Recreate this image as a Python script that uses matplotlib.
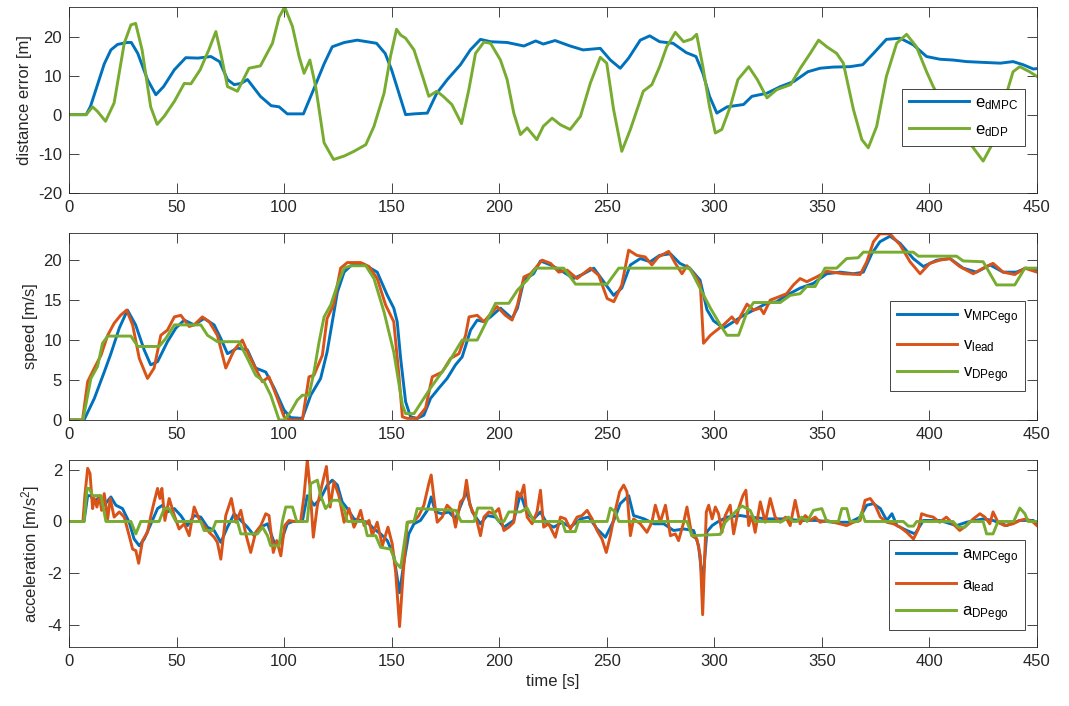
import matplotlib
matplotlib.use("Agg")
import matplotlib.pyplot as plt
import numpy as np

plt.rcParams['font.family'] = ['Liberation Sans', 'DejaVu Sans']
plt.rcParams['mathtext.fontset'] = 'custom'
plt.rcParams['mathtext.rm'] = 'Liberation Sans'
plt.rcParams['mathtext.it'] = 'Liberation Sans:italic'
plt.rcParams['mathtext.default'] = 'regular'
plt.rcParams['axes.unicode_minus'] = False

C_BLUE = '#0072BD'
C_ORANGE = '#D95319'
C_GREEN = '#77AC30'

# ---------------- distance error [m] ----------------
ed_mpc = [(0,0),(8,0),(10,2.1),(16.4,13),(19.5,16.6),(22.6,18),(27,18.5),(29,18.5),(32,15.7),(36.5,9),
          (40.4,5.1),(44,7.2),(49,11.5),(54.3,14.6),(60,14.5),(66,14.9),(70,13.6),(73.7,9),(76.8,7.7),
          (80,8),(83,9),(89,4.7),(94,2.3),(97.7,2),(101.5,0.2),(109,0.2),(114,6.8),(118.6,13),
          (122.4,17.4),(128,18.5),(134,19.1),(143,18.3),(147,15.7),(150,11.5),(153.4,5.5),(156.5,0),
          (160.4,0.2),(166.6,0.4),(171,5.5),(175.9,9),(182,12.8),(186.6,16.6),(191.3,19.3),(196,18.7),
          (203.7,18.5),(211.5,17.6),(217,18.9),(220.5,18.1),(226,19),(233,17.6),(239,16.6),(247,17),
          (251.7,14),(256.3,11.9),(260.2,14.5),(265.6,19.1),(270,20.2),(274.6,18.7),(280.8,18.3),
          (287,15.9),(291.5,14.9),(294.7,10.6),(297.8,4.7),(301.2,0.4),(306,2),(313.6,2.6),(317.5,4.7),
          (324.5,5.5),(330.8,7.2),(337,8.5),(343.5,11),(349.2,11.9),(355.4,12.2),(363,12.3),(369,12.8),
          (374,15.7),(380,19.3),(386.4,19.6),(392.5,17.9),(398.7,14.9),(405,14.2),(411,14),(417.3,13.6),
          (425,13.4),(433,13.2),(438.9,13.6),(443.6,12.8),(448.3,11.7),(450,11.8)]
ed_dp = [(0,0),(8,0),(11,2),(13.3,0.8),(17,-1.7),(21,3),(25.7,18.3),(28.8,23),(31,23.4),(34,16.6),(38,2),
         (41,-2.5),(44.3,-0.4),(49,3.4),(53.6,8),(56.7,7.9),(61,11.5),(65,16.6),(68.3,21.3),(70.6,15.7),
         (73.7,7.2),(78.3,6),(80.6,8.5),(83.7,11.9),(89,12.5),(94.6,18.3),(97.7,25),(100.3,27.6),
         (103.9,22.6),(107,14.9),(109.3,10.6),(112,14),(114.7,7.2),(118.6,-7.2),(123,-11.5),(128,-10.6),
         (132.5,-9.4),(138,-7.7),(141.8,-3),(146.5,5.5),(149.5,15),(152.3,21.9),(154.2,20.4),(156.5,19.6),
         (160.4,16.6),(164.4,9.8),(167.3,4.7),(171,6),(174,4.7),(178,2.6),(182.5,-2.3),(185.9,6.4),
         (189,15.7),(192.9,18.6),(196,18.3),(200.6,14),(203.7,9),(206.8,0.4),(209.9,-5.1),(213,-3.4),
         (217.5,-6.4),(220.5,-3),(224.6,-0.9),(228.5,-2.6),(233,-3.8),(237.8,-0.4),(242.4,8.1),(247,14.7),
         (250,13.2),(253.2,1.3),(257,-9.4),(261,-3.8),(267,6),(271,7.7),(274.6,12.3),(277.9,17.4),
         (281.9,21.1),(285.7,18.7),(289.6,19.4),(291.8,20.6),(294.7,12.3),(297.8,2),(300.5,-4.7),
         (303.5,-3.8),(307.4,2),(311,9),(316,12.3),(320,9),(324.5,4.3),(329,6.4),(335.5,7.7),(340,11.9),
         (344.6,15.7),(348.5,19.1),(352.3,17.4),(356.9,15.7),(360,13.2),(364.7,1.3),(368.6,-6.4),
         (371.6,-8.5),(375.5,-3),(380,9.8),(384.8,18.3),(389.4,20.6),(394,17.4),(398.7,11),(401.8,7.2),
         (407,2),(413,-3),(418,-6.5),(420.4,-8.5),(425,-11.9),(429.6,-7.2),(434,2),(438.9,11),(442,12.3),
         (446.6,11),(450,9.8)]

# ---------------- speed [m/s] ----------------
v_mpc = [(0,0),(7,0),(11.8,2.7),(16.4,6),(19.5,8.3),(23.4,11.5),(27.2,13.75),(31,11.9),(35,8.75),(38,6.9),
         (41.2,7.3),(45.8,9.8),(49.7,11.5),(53.6,12.5),(58.2,11.9),(62.8,12.7),(67.5,11.9),(70.6,10.2),
         (73.7,8.3),(78.3,9),(83,8.75),(86.8,6.5),(91.5,6),(95.4,4),(100,1.25),(103,0.3),(108.5,0.2),
         (112.4,3.1),(117,5.2),(120,8.5),(124.8,16),(127.9,18.5),(131,19.3),(137,19.5),(143.3,18.5),
         (148,15.6),(151,14),(152.6,12.3),(154.2,7.7),(156.5,2.3),(158.8,0.4),(161.9,0.2),(165,0.6),
         (168.1,2.7),(172,4),(175.8,5.2),(179.7,6.9),(182.8,7.9),(186.7,11.25),(189.8,12.5),(192.9,12.3),
         (196,12.9),(200.6,14),(206,12.7),(208.5,14),(211.5,17.5),(216,18.3),(219.2,19.9),(223.9,19.4),
         (228.5,18.75),(234.6,17.7),(239.3,18.3),(244,19),(248.6,17.3),(253.2,15.6),(257,16.5),(261,19.4),
         (265.6,20.2),(270.2,19.8),(274.6,20.6),(279.6,20.8),(284,19.6),(288.6,19),(293.4,17.5),
         (296.6,13.8),(299.7,12.4),(304.3,11.5),(309,12.3),(313.6,13.1),(318.3,13.75),(324.4,14.6),
         (329,14.8),(333.6,15.6),(339.9,16.5),(346.1,17.1),(352.3,18.3),(358.5,18.5),(364.7,18.3),
         (369.3,18.5),(373.2,20.8),(377,22.3),(381.7,23),(386.4,22.1),(392.5,20.2),(397.2,19.2),
         (403.4,20),(409.6,20.2),(415.7,19),(421.9,18.5),(428.2,19.4),(434.3,18.5),(440.4,18.5),
         (445,19),(450,18.7)]
v_lead = [(0,0),(6.3,0),(8.7,4.8),(11.8,6.5),(14.9,8.1),(18,10.6),(21,12.1),(24,13.1),(26.8,13.75),
          (29.6,11.9),(32.7,7.7),(36.5,5.2),(39.6,6.5),(42.7,10.6),(45.8,11.25),(49,12.9),(52,13.1),
          (55.9,11.7),(58.2,11.9),(62,12.9),(65.2,12.3),(69,10.6),(72.9,6.5),(76.8,8.75),(80.6,10),
          (83.7,8.1),(87.6,6),(89.9,4.8),(93,5.4),(96.9,2.7),(100,0.4),(103,0),(108.5,0),(111.6,5.4),
          (113.9,5.6),(117.8,8.1),(120,12.7),(123,14.4),(126.3,19),(129.4,19.7),(135.6,19.7),
          (139.5,19.2),(143.3,17.7),(147.2,14.4),(151,12.3),(153.4,5.6),(155,0.4),(157.3,0.2),
          (161.9,0.2),(165.8,1.5),(168.9,5.4),(173.5,6),(177.4,7.7),(181.3,8.3),(184.4,10.6),(186,12.9),
          (189.8,13.1),(192.9,12.3),(199,14.2),(202.9,13.1),(206,12.5),(208.5,14.4),(211.5,17.9),
          (214.6,18.3),(220,20),(223.9,19.6),(227.7,18.5),(231.6,18.75),(236.2,17.7),(242.4,19),
          (246.3,18.1),(250.2,15.2),(253.3,14.8),(257,16.9),(260.2,21.25),(264,20.6),(267.9,20.4),
          (271,19.4),(274,20.4),(278.8,21.1),(281.9,19.6),(285,18.3),(287.3,19.3),(291,18.1),(293.5,17),
          (295,9.6),(298.2,10.6),(300.5,11.1),(304.3,11.9),(308.2,12.9),(310.5,12.1),(315.2,14.5),
          (318.3,13.75),(321.4,14),(323,13.3),(326,15),(329.9,15.4),(333.6,15.8),(336.8,16.9),
          (339.9,17.7),(343,17.3),(347.6,17.9),(352.3,18.6),(360,18.3),(367.8,18.2),(370.9,19.8),
          (374,22.3),(377,23.3),(381.7,23.3),(386.4,21.9),(391,19.8),(395.7,18.3),(400.2,19.6),
          (404.8,20),(409.5,20.2),(414.1,19.2),(420.4,18.3),(425,19),(429.6,19.6),(434.3,18.5),
          (439.7,18.2),(444.4,19),(450,18.5)]
v_dp = [(0,0),(6.5,0),(10.2,5.2),(13.3,6.7),(15.6,9.6),(18,10.5),(28.8,10.5),(32,9.2),(41.9,9.2),
        (45,10.2),(49,11.9),(61.3,11.9),(64.4,10.6),(69,9.8),(79,9.8),(83,7.7),(86.8,5.6),(90.7,4.8),
        (93.8,3.1),(97.7,0),(100,0),(103,1),(106.2,2.5),(108.5,3.1),(111.6,3.1),(113.9,6),(116.3,9.8),
        (118.6,12.9),(121.7,14.4),(124.8,16.9),(127.9,19),(131,19.3),(138,19.3),(141.8,17.7),
        (146.5,13.5),(151,8.5),(155,1.9),(156.5,0.8),(160.4,0.8),(168.1,4),(175.8,6.9),(182.8,10),
        (189.8,10),(198.3,14.6),(204.5,14.6),(208.5,16.25),(213,17.5),(217,19),(230,19),(235.5,17),
        (250.2,17),(255.6,19),(288.6,19),(294.3,16),(298.2,14),(302.8,11.9),(305.9,10.6),(311.3,10.6),
        (315.2,13.5),(318.3,14.7),(330.7,14.7),(335.3,15.6),(339.9,15.8),(343,16.7),(346.9,16.7),
        (351.5,19),(356.9,19),(361.5,20.2),(366.9,20.3),(369.3,21),(392.5,21),(394.9,20.5),(412.6,20.5),
        (415.7,19.9),(425,19.8),(431.2,16.9),(439.7,16.9),(444.4,19),(450,19)]

# ---------------- acceleration [m/s^2] ----------------
a_mpc = [(0,0),(7,0),(8.7,1.0),(10.2,1.0),(11.8,0.76),(14.1,0.95),(16.4,0.63),(19.5,0.95),(21.8,0.63),
         (24.9,0.5),(28,-0.03),(30.3,-0.68),(32.7,-0.94),(35,-0.68),(38.1,-0.09),(41.2,0.5),(43.5,0.63),
         (45.8,0.37),(49,0.5),(52,0.23),(55.1,-0.16),(58.2,0.23),(61.3,0.17),(64.4,-0.22),(67.5,-0.35),
         (70.6,-0.81),(73.7,-0.22),(76.8,0.3),(79.9,0.04),(83,-0.22),(86.1,-0.55),(89.2,-0.22),
         (92.3,-0.09),(95.4,-0.81),(98.5,-0.81),(101.5,-0.09),(104,0),(108.5,0),(110.8,1.0),(114,0.63),
         (117,0.89),(120.1,1.41),(122.4,1.6),(124.8,1.41),(127,0.76),(129.4,0.5),(132.5,0.1),
         (135.6,0.04),(138.7,-0.03),(141.8,-0.29),(144.9,-0.48),(148,-0.74),(151,-1.33),(153.7,-2.76),
         (155.7,-1.59),(158,-0.48),(160.4,-0.09),(163.4,0.04),(166.6,0.43),(168.4,0.95),(170.4,0.37),
         (173.5,0.3),(176.6,0.37),(179.7,0.1),(182.8,0.76),(184.8,1.15),(187.5,0.37),(191.3,-0.09),
         (194.4,0.23),(198.3,0.17),(202.2,-0.22),(206.8,0.04),(209.9,1.08),(213,0.3),(216.1,0.1),
         (219.2,0.37),(222.3,-0.09),(225.4,-0.22),(229.3,-0.03),(233.1,-0.22),(237.8,0.1),(241.7,0.17),
         (245.5,-0.29),(249.4,-0.61),(253.3,0.04),(256.3,0.69),(260.2,1.0),(262.5,0.23),(267.4,0.1),
         (272,-0.09),(276.5,-0.09),(281.1,-0.35),(285.8,-0.29),(290.4,-0.35),(292.7,-0.94),(294.6,-2.37),
         (296.6,-0.4),(299,-0.16),(301.3,-0.03),(305.9,0.17),(312.1,0.23),(316.7,0.17),(324.4,0.1),
         (332.2,0.1),(339.9,0.04),(347.6,0.04),(355.4,-0.03),(363.1,-0.03),(367.8,0.17),(370.9,0.63),
         (374,0.69),(377.2,0.5),(380.2,0.04),(382.6,0.3),(384.9,-0.16),(389.5,-0.35),(393.3,-0.48),
         (397.2,0.04),(404.8,0.04),(412.6,-0.16),(417.2,-0.03),(425,0.1),(429.6,0.04),(435.9,-0.16),
         (442,0.04),(448.3,0.04),(450,-0.09)]
a_lead = [(0,0),(6.5,0),(7.4,1.0),(8.7,2.06),(9.8,1.86),(11,0.5),(11.8,0.89),(13,0.56),(14.1,1.0),
          (15.2,0.43),(16.4,1.08),(18,0.1),(19.2,0.89),(21,0.17),(23.4,0.37),(25.7,0.17),(28,-0.55),
          (29.6,-1.07),(31.1,-1.13),(32.4,-1.62),(34.2,-0.74),(36.5,-0.42),(38.1,0.23),(39.6,0.76),
          (41.2,1.28),(42.3,0.89),(43.2,1.28),(44.6,0.04),(46.6,0.89),(49,0.23),(51.2,-0.29),(53.6,-0.09),
          (55.9,-0.55),(58.2,0.56),(60.5,0.1),(62.8,-0.16),(65.2,-0.42),(67.5,-0.61),(69,-0.81),
          (70.6,-1.46),(72.9,0.23),(75.5,0.89),(77.6,-0.03),(79.9,0.43),(82.2,-0.48),(84.5,-1.2),
          (86.8,-0.42),(89.2,-0.16),(91.5,0.3),(93,0.23),(95,-1.2),(96.6,-0.74),(98.5,-1.33),
          (100.3,-0.16),(102.3,0.04),(104.6,0),(107.7,0),(109.3,1.0),(110.8,2.38),(112.1,1.28),
          (113.6,-0.61),(115.5,0.63),(117.8,1.47),(119.7,2.13),(121.4,0.56),(123.2,1.54),(125.5,1.0),
          (127.9,-0.03),(130.2,0.5),(132.5,-0.22),(134,0.04),(135.6,0.43),(137.2,-0.16),(139.5,0.04),
          (141,-0.55),(143.3,-0.03),(145.7,-0.94),(148.3,-0.22),(150.3,-0.87),(151.9,-1.98),
          (153.7,-4.07),(155.4,-1.98),(157.3,-0.03),(160.4,0),(162.7,0.23),(165,0.63),(167.3,1.47),
          (168.4,1.8),(169.7,0.89),(171.2,-0.03),(173.5,0.17),(175.8,0.63),(178.2,0.43),(179.7,-0.22),
          (182,0.76),(183.6,0.89),(184.8,1.6),(186.4,0.63),(188.2,0.3),(189.8,-0.03),(191.3,-0.55),
          (192.9,0.17),(195.2,0.37),(197.5,0.3),(199.8,0.5),(202.2,-0.35),(204.5,-0.22),(206.8,-0.03),
          (208.4,1.15),(209.9,0.95),(211.5,1.41),(213,0.17),(215.3,-0.09),(217.6,0.37),(219.2,1.21),
          (220.7,-0.22),(223,-0.09),(226.1,-0.61),(228.5,0.17),(230.8,0.1),(233.1,-0.29),(236.2,0.17),
          (238.5,0.23),(240.9,0.43),(243.2,0.1),(245.5,-0.35),(247.8,-0.68),(249.8,-1.2),(251.7,-0.55),
          (254,0.43),(256,1.15),(257.9,1.41),(259.4,1.15),(261,-0.55),(262.5,0.1),(265.6,-0.09),
          (268.7,-0.42),(271,-0.03),(272.6,0.63),(274.9,-0.03),(277.3,0.63),(279.6,-0.55),(281.9,-0.48),
          (283.4,-0.74),(285.8,-0.03),(287.3,0.56),(289.6,-0.55),(291.9,-0.68),(293.5,-1.33),
          (294.6,-3.61),(296.3,0.37),(297.4,0.63),(299,0.1),(300.5,0.56),(302,0.3),(303.6,-0.42),
          (305.1,0.23),(307.4,0.63),(309,-0.48),(311.3,0.5),(313.3,1.0),(314.7,1.21),(316,-0.16),
          (317.5,0.23),(319,-0.42),(321.4,0.76),(323.7,-0.03),(326,0.89),(328.3,0.17),(330.7,-0.03),
          (333.2,0.17),(335.3,-0.16),(337.6,0.82),(339.9,-0.09),(342.3,0.23),(344.6,0.04),(346.9,0.17),
          (349.2,-0.03),(352.3,0.04),(355.4,-0.03),(358.4,-0.09),(361.5,-0.16),(364.7,-0.03),
          (367.8,0.04),(370.1,0.82),(372.5,0.89),(374.8,0.63),(377.2,0.17),(380.2,-0.03),(383.3,-0.09),
          (386.4,-0.22),(389.5,-0.42),(392.6,-0.68),(394.9,-0.29),(396.4,0.3),(398.7,0.23),(401.8,0.17),
          (404.8,-0.03),(407.9,0.17),(411,-0.09),(414.1,-0.35),(417.2,-0.16),(420.4,0.1),(423.5,0.3),
          (425.8,0.17),(428.1,-0.09),(429.6,0.37),(431.9,-0.03),(435,-0.16),(438.9,-0.09),(442,0.04),
          (445.1,0.1),(448.3,-0.03),(450,-0.16)]
a_dp = [(0,0),(7,0),(8.4,1.28),(9.4,1.28),(11,1.0),(14.9,1.0),(17.2,0),(28.8,0),(31.1,-0.48),(33.4,0),
        (41.9,0),(44.3,0.5),(46.6,0.5),(49.7,0),(61.3,0),(62.8,-0.35),(66.7,-0.35),(68.3,0),(78.3,0),
        (79.9,-0.48),(87.6,-0.48),(90,-0.22),(92.3,-0.55),(93.8,-0.94),(97.7,-0.94),(99.2,0),(100.8,0.56),
        (103.9,0.56),(105.9,0),(110.8,0),(112.4,1.47),(115.5,1.6),(117,1.0),(119.3,0.5),(122.4,0.82),
        (125.5,0.82),(127.9,0.5),(129.4,0),(137.2,0),(138.7,-0.55),(142.6,-0.55),(144.9,-1.0),
        (149.5,-1.07),(151.9,-1.59),(154.2,-1.79),(155.7,-0.94),(157.3,-0.03),(160.4,0),(161.9,0.5),
        (179.9,0.43),(182.3,0),(188.4,0),(190,0.52),(196.5,0.52),(199.8,0),(202.2,0),(204.5,0.37),
        (209.9,0.37),(213,0.52),(216.1,0),(229.3,0),(230.8,-0.39),(235.4,-0.39),(236.9,0),(250.2,0),
        (251.7,0.52),(254,0.37),(255.6,0),(287.3,0),(289.6,-0.55),(302.8,-0.5),(305.1,-0.03),
        (310.5,0.43),(312.9,0.6),(316.7,0.43),(319,0),(331.5,0),(334.5,0.17),(336.5,0),(338.4,0),
        (340.7,0.17),(343.2,0),(346.1,0.43),(350,0.5),(352.3,0),(357.7,0),(359.3,0.5),(361.6,0.5),
        (363.1,0),(367,0),(368.6,0.37),(370.1,0),(387.9,0),(390.2,-0.18),(392.6,-0.18),(394.1,0),
        (411,0),(413.4,-0.22),(416.5,-0.22),(418.8,0),(425,0),(426.6,-0.48),(429.6,-0.48),(431.9,0),
        (439.2,0),(442,0.52),(444.4,0.3),(445.9,0),(450,0)]

x_ticks = [0, 50, 100, 150, 200, 250, 300, 350, 400, 450]
ticks_top = [-20, -10, 0, 10, 20]
ticks_mid = [0, 5, 10, 15, 20]
ticks_bot = [-4, -2, 0, 2]

LW = 2.1
FS = 12
AX_COLOR = '#262626'

fig = plt.figure(figsize=(10.69, 7.06), dpi=100)
left, width = 0.0645, 0.9055
ax1 = fig.add_axes([left, 0.7271, width, 0.2630])
ax2 = fig.add_axes([left, 0.4051, width, 0.2649])
ax3 = fig.add_axes([left, 0.0829, width, 0.2655])


def xy(pts):
    a = np.array(pts, dtype=float)
    return a[:, 0], a[:, 1]


def style(ax, yticks, ylim, ylabel):
    ax.set_xlim(0, 450)
    ax.set_ylim(*ylim)
    ax.set_xticks(x_ticks)
    ax.set_yticks(yticks)
    ax.tick_params(direction='in', length=7, width=0.6, top=True, right=True,
                   labelsize=FS, colors=AX_COLOR, pad=5)
    for s in ax.spines.values():
        s.set_color(AX_COLOR)
        s.set_linewidth(0.6)
    ax.set_ylabel(ylabel, fontsize=FS, color=AX_COLOR, labelpad=4)


def legend(ax, y0):
    lg = ax.legend(loc='lower right', bbox_to_anchor=(0.988, y0), fontsize=FS,
                   frameon=True, fancybox=False, framealpha=1, edgecolor=AX_COLOR,
                   handlelength=3.6, handletextpad=0.4, labelspacing=0.62,
                   borderpad=0.4, borderaxespad=0)
    lg.get_frame().set_linewidth(0.6)


t, v = xy(ed_mpc)
ax1.plot(t, v, color=C_BLUE, lw=LW, label=r'e$_{dMPC}$')
t, v = xy(ed_dp)
ax1.plot(t, v, color=C_GREEN, lw=LW, label=r'e$_{dDP}$')
style(ax1, ticks_top, (-20, 27.6), 'distance error [m]')
legend(ax1, 0.253)

t, v = xy(v_mpc)
ax2.plot(t, v, color=C_BLUE, lw=LW, label=r'v$_{MPCego}$')
t, v = xy(v_lead)
ax2.plot(t, v, color=C_ORANGE, lw=LW, label=r'v$_{lead}$')
t, v = xy(v_dp)
ax2.plot(t, v, color=C_GREEN, lw=LW, label=r'v$_{DPego}$')
style(ax2, ticks_mid, (0, 23.4), 'speed [m/s]')
legend(ax2, 0.154)

t, v = xy(a_mpc)
ax3.plot(t, v, color=C_BLUE, lw=LW, label=r'a$_{MPCego}$')
t, v = xy(a_lead)
ax3.plot(t, v, color=C_ORANGE, lw=LW, label=r'a$_{lead}$')
t, v = xy(a_dp)
ax3.plot(t, v, color=C_GREEN, lw=LW, label=r'a$_{DPego}$')
style(ax3, ticks_bot, (-4.88, 2.38), r'acceleration [m/s$^2$]')
legend(ax3, 0.091)
ax3.set_xlabel('time [s]', fontsize=FS, color=AX_COLOR, labelpad=3)

fig.savefig('out.png', dpi=100)
